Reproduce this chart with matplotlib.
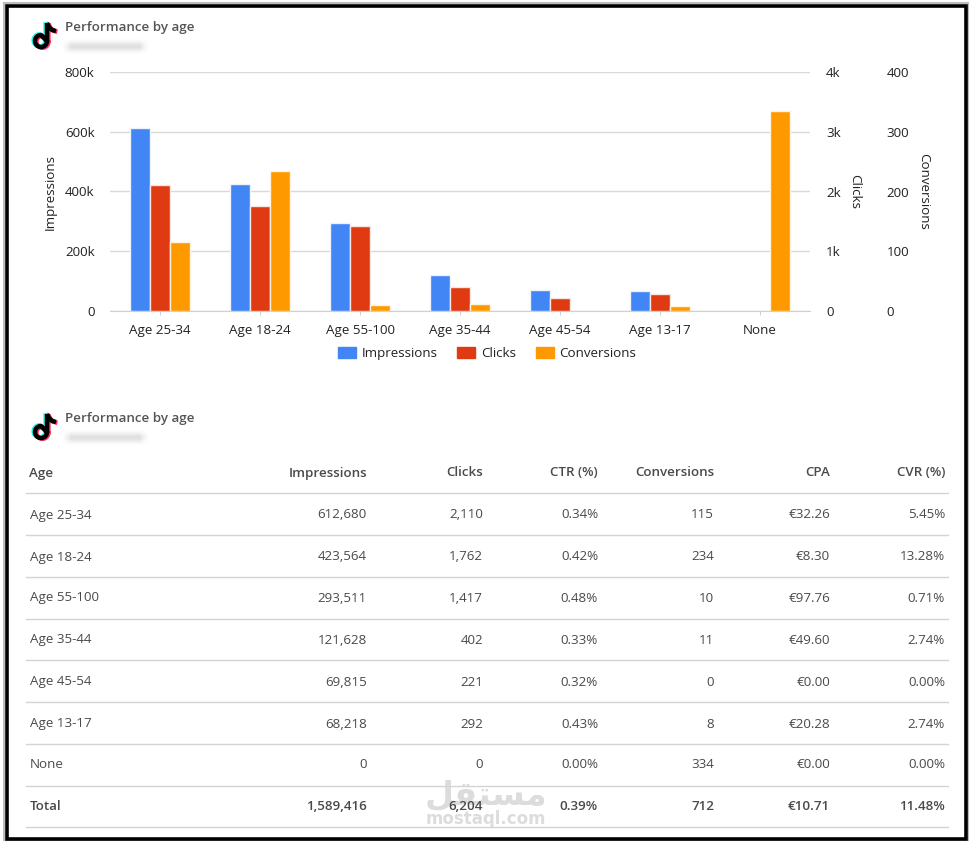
import numpy as np
import matplotlib
matplotlib.use('Agg')
import matplotlib.pyplot as plt
from matplotlib.patches import Patch, Rectangle

plt.rcParams['font.family'] = ['Open Sans', 'DejaVu Sans']

ages = ['Age 25-34', 'Age 18-24', 'Age 55-100', 'Age 35-44', 'Age 45-54', 'Age 13-17', 'None']
impressions = [612680, 423564, 293511, 121628, 69815, 68218, 0]
clicks = [2110, 1762, 1417, 402, 221, 292, 0]
ctr = ['0.34%', '0.42%', '0.48%', '0.33%', '0.32%', '0.43%', '0.00%']
conversions = [115, 234, 10, 11, 0, 8, 334]
cpa = ['€32.26', '€8.30', '€97.76', '€49.60', '€0.00', '€20.28', '€0.00']
cvr = ['5.45%', '13.28%', '0.71%', '2.74%', '0.00%', '2.74%', '0.00%']

headers = ['Age', 'Impressions', 'Clicks', 'CTR (%)', 'Conversions', 'CPA', 'CVR (%)']
totals = ['Total', '1,589,416', '6,204', '0.39%', '712', '€10.71', '11.48%']

imp_ticks = [0, 200000, 400000, 600000, 800000]
imp_labels = ['0', '200k', '400k', '600k', '800k']
clk_ticks = [0, 1000, 2000, 3000, 4000]
clk_labels = ['0', '1k', '2k', '3k', '4k']
conv_ticks = [0, 100, 200, 300, 400]

W, H = 971, 846
BLUE, RED, ORANGE = '#4285F4', '#E03A12', '#FF9900'
TEXT = '#222222'
TABLE_TEXT = '#4a4a4a'
FS = 9.6

fig = plt.figure(figsize=(W / 100, H / 100), dpi=100, facecolor='white')

# page layer in pixel coords, y going down
bg = fig.add_axes([0, 0, 1, 1], zorder=0)
bg.set_xlim(0, W)
bg.set_ylim(H, 0)
bg.axis('off')


def logo(x, y):
    t = np.radians(np.linspace(-10, 270, 40))
    ring_x = x + 10 + 6 * np.cos(t)
    ring_y = y + 21 + 6 * np.sin(t)
    nx = np.concatenate([ring_x, [x + 16, x + 16]])
    ny = np.concatenate([ring_y, [y + 21, y + 3]])
    fx = x + 16 + np.array([0, 2, 5, 9])
    fy = y + 3 + np.array([0, 4, 7, 8])
    for dx, dy, c, z in [(-1.4, -0.7, '#25F4EE', 3), (1.4, 0.8, '#FE2C55', 3), (0, 0, '#000000', 4)]:
        bg.plot(nx + dx, ny + dy, color=c, lw=3.2, zorder=z, solid_capstyle='butt')
        bg.plot(fx + dx, fy + dy, color=c, lw=3.2, zorder=z, solid_capstyle='butt')


def blurred(x0, x1, y0, y1):
    xs = np.linspace(x0 - 6, x1 + 6, 100)
    ys = np.linspace(y0 - 6, y1 + 6, 30)
    ax_ = np.clip((xs - x0 + 6) / 10, 0, 1) * np.clip((x1 + 6 - xs) / 10, 0, 1)
    ay_ = np.clip((ys - y0 + 6) / 10, 0, 1) * np.clip((y1 + 6 - ys) / 10, 0, 1)
    img = np.ones((30, 100, 4)) * np.array([0.72, 0.72, 0.72, 1.0])
    img[..., 3] = (np.outer(ay_, ax_) ** 1.5) * 0.7
    bg.imshow(img, extent=(x0 - 6, x1 + 6, y1 + 6, y0 - 6), aspect='auto', zorder=2, interpolation='bilinear')
    bg.set_xlim(0, W)
    bg.set_ylim(H, 0)


# screenshot frame
bg.add_patch(Rectangle((3.5, 3.5), 964, 837, fill=False, ec='#bdbdbd', lw=1.5, zorder=1))
bg.add_patch(Rectangle((6.5, 6.5), 959.5, 832.5, fill=False, ec='black', lw=2.6, zorder=2))

# headers of both cards
for top in [20, 411]:
    logo(31, top)
    bg.text(65, top + 7.5, 'Performance by age', fontsize=FS, fontweight='semibold',
            color='#555555', va='center', ha='left')
    blurred(67, 144, top + 24, top + 29)

# table
right_edges = [367, 483, 598, 714, 830, 945]
row_lines = [493, 535, 577, 619, 660, 702, 744, 786, 827]
row_y = [515, 557, 598, 640, 682, 724, 765]

# watermark goes under the table text
bg.text(486, 795, '\uFEDE\uFED8\uFE98\uFEB4\uFEE3', family='DejaVu Sans', fontsize=24, fontweight='bold',
        color='#8c8c8c', alpha=0.3, ha='center', va='center', zorder=0.5)
bg.text(486, 819, 'mostaql.com', family='DejaVu Sans', fontsize=12, fontweight='bold',
        color='#8c8c8c', alpha=0.3, ha='center', va='center', zorder=0.5)

bg.text(29, 473, headers[0], fontsize=FS, fontweight='semibold', color=TABLE_TEXT, va='center')
for xr, h in zip(right_edges, headers[1:]):
    bg.text(xr, 473, h, fontsize=FS, fontweight='semibold', color=TABLE_TEXT, va='center', ha='right')

for yl in row_lines:
    bg.plot([26, 948], [yl, yl], color='#d4d4d4', lw=1, zorder=1)

for i, y in enumerate(row_y):
    cells = [f'{impressions[i]:,}', f'{clicks[i]:,}', ctr[i], str(conversions[i]), cpa[i], cvr[i]]
    bg.text(30, y, ages[i], fontsize=FS, color=TABLE_TEXT, va='center')
    for xr, c in zip(right_edges, cells):
        bg.text(xr, y, c, fontsize=FS, color=TABLE_TEXT, va='center', ha='right')

bg.text(30, 807, totals[0], fontsize=FS, fontweight='semibold', color=TABLE_TEXT, va='center')
for xr, c in zip(right_edges, totals[1:]):
    bg.text(xr, 807, c, fontsize=FS, fontweight='semibold', color=TABLE_TEXT, va='center', ha='right')

# chart, plot area is x 110-810, y 72-311
ax = fig.add_axes([110 / W, 1 - 311 / H, 700 / W, 239 / H], zorder=2)
ax.patch.set_visible(False)
ax2 = ax.twinx()
ax3 = ax.twinx()

x = np.arange(len(ages))
bw = 0.2
ax.bar(x - bw, impressions, bw, color=BLUE, edgecolor='#eef3fb', linewidth=1, zorder=3)
ax2.bar(x, clicks, bw, color=RED, edgecolor='#f8e6e1', linewidth=1, zorder=3)
ax3.bar(x + bw, conversions, bw, color=ORANGE, edgecolor='#fdf3e0', linewidth=1, zorder=3)

ax.set_xlim(-0.5, 6.5)
ax.set_ylim(0, 800000)
ax2.set_ylim(0, 4000)
ax3.set_ylim(0, 400)

ax.set_yticks(imp_ticks, imp_labels)
ax2.set_yticks(clk_ticks, clk_labels)
ax3.set_yticks(conv_ticks, [str(v) for v in conv_ticks])
ax.set_xticks(x, ages)

ax.grid(axis='y', color='#d9d9d9', lw=1, zorder=0)
ax.set_axisbelow(True)
ax.tick_params(axis='y', length=0, pad=11, labelsize=FS, labelcolor=TEXT)
ax.tick_params(axis='x', length=3, width=0.6, color='#c4cad2', pad=6.5, labelsize=FS, labelcolor=TEXT)
ax2.tick_params(axis='y', length=0, pad=11.5, labelsize=FS, labelcolor=TEXT)
ax3.tick_params(axis='y', length=0, pad=55, labelsize=FS, labelcolor=TEXT)

for a in (ax, ax2, ax3):
    for s in a.spines.values():
        s.set_visible(False)
ax.spines['bottom'].set_visible(True)
ax.spines['bottom'].set_color('#d0d0d0')
ax.spines['bottom'].set_linewidth(0.8)

ax.set_ylabel('Impressions', fontsize=FS, color=TEXT, va='center')
ax.yaxis.set_label_coords((50 - 110) / 700, 0.5)
ax2.set_ylabel('Clicks', fontsize=FS, color=TEXT, rotation=270, va='center')
ax2.yaxis.set_label_coords((855 - 110) / 700, 0.5)
ax3.set_ylabel('Conversions', fontsize=FS, color=TEXT, rotation=270, va='center')
ax3.yaxis.set_label_coords((924 - 110) / 700, 0.5)

handles = [Patch(color=BLUE), Patch(color=RED), Patch(color=ORANGE)]
fig.legend(handles, ['Impressions', 'Clicks', 'Conversions'], ncols=3, frameon=False,
           fontsize=FS, loc='center', bbox_to_anchor=(487 / W, 1 - 353.5 / H),
           handlelength=1.35, handleheight=0.9, handletextpad=0.4, columnspacing=1.5,
           labelcolor=TEXT)

fig.savefig('out.png', dpi=100)
